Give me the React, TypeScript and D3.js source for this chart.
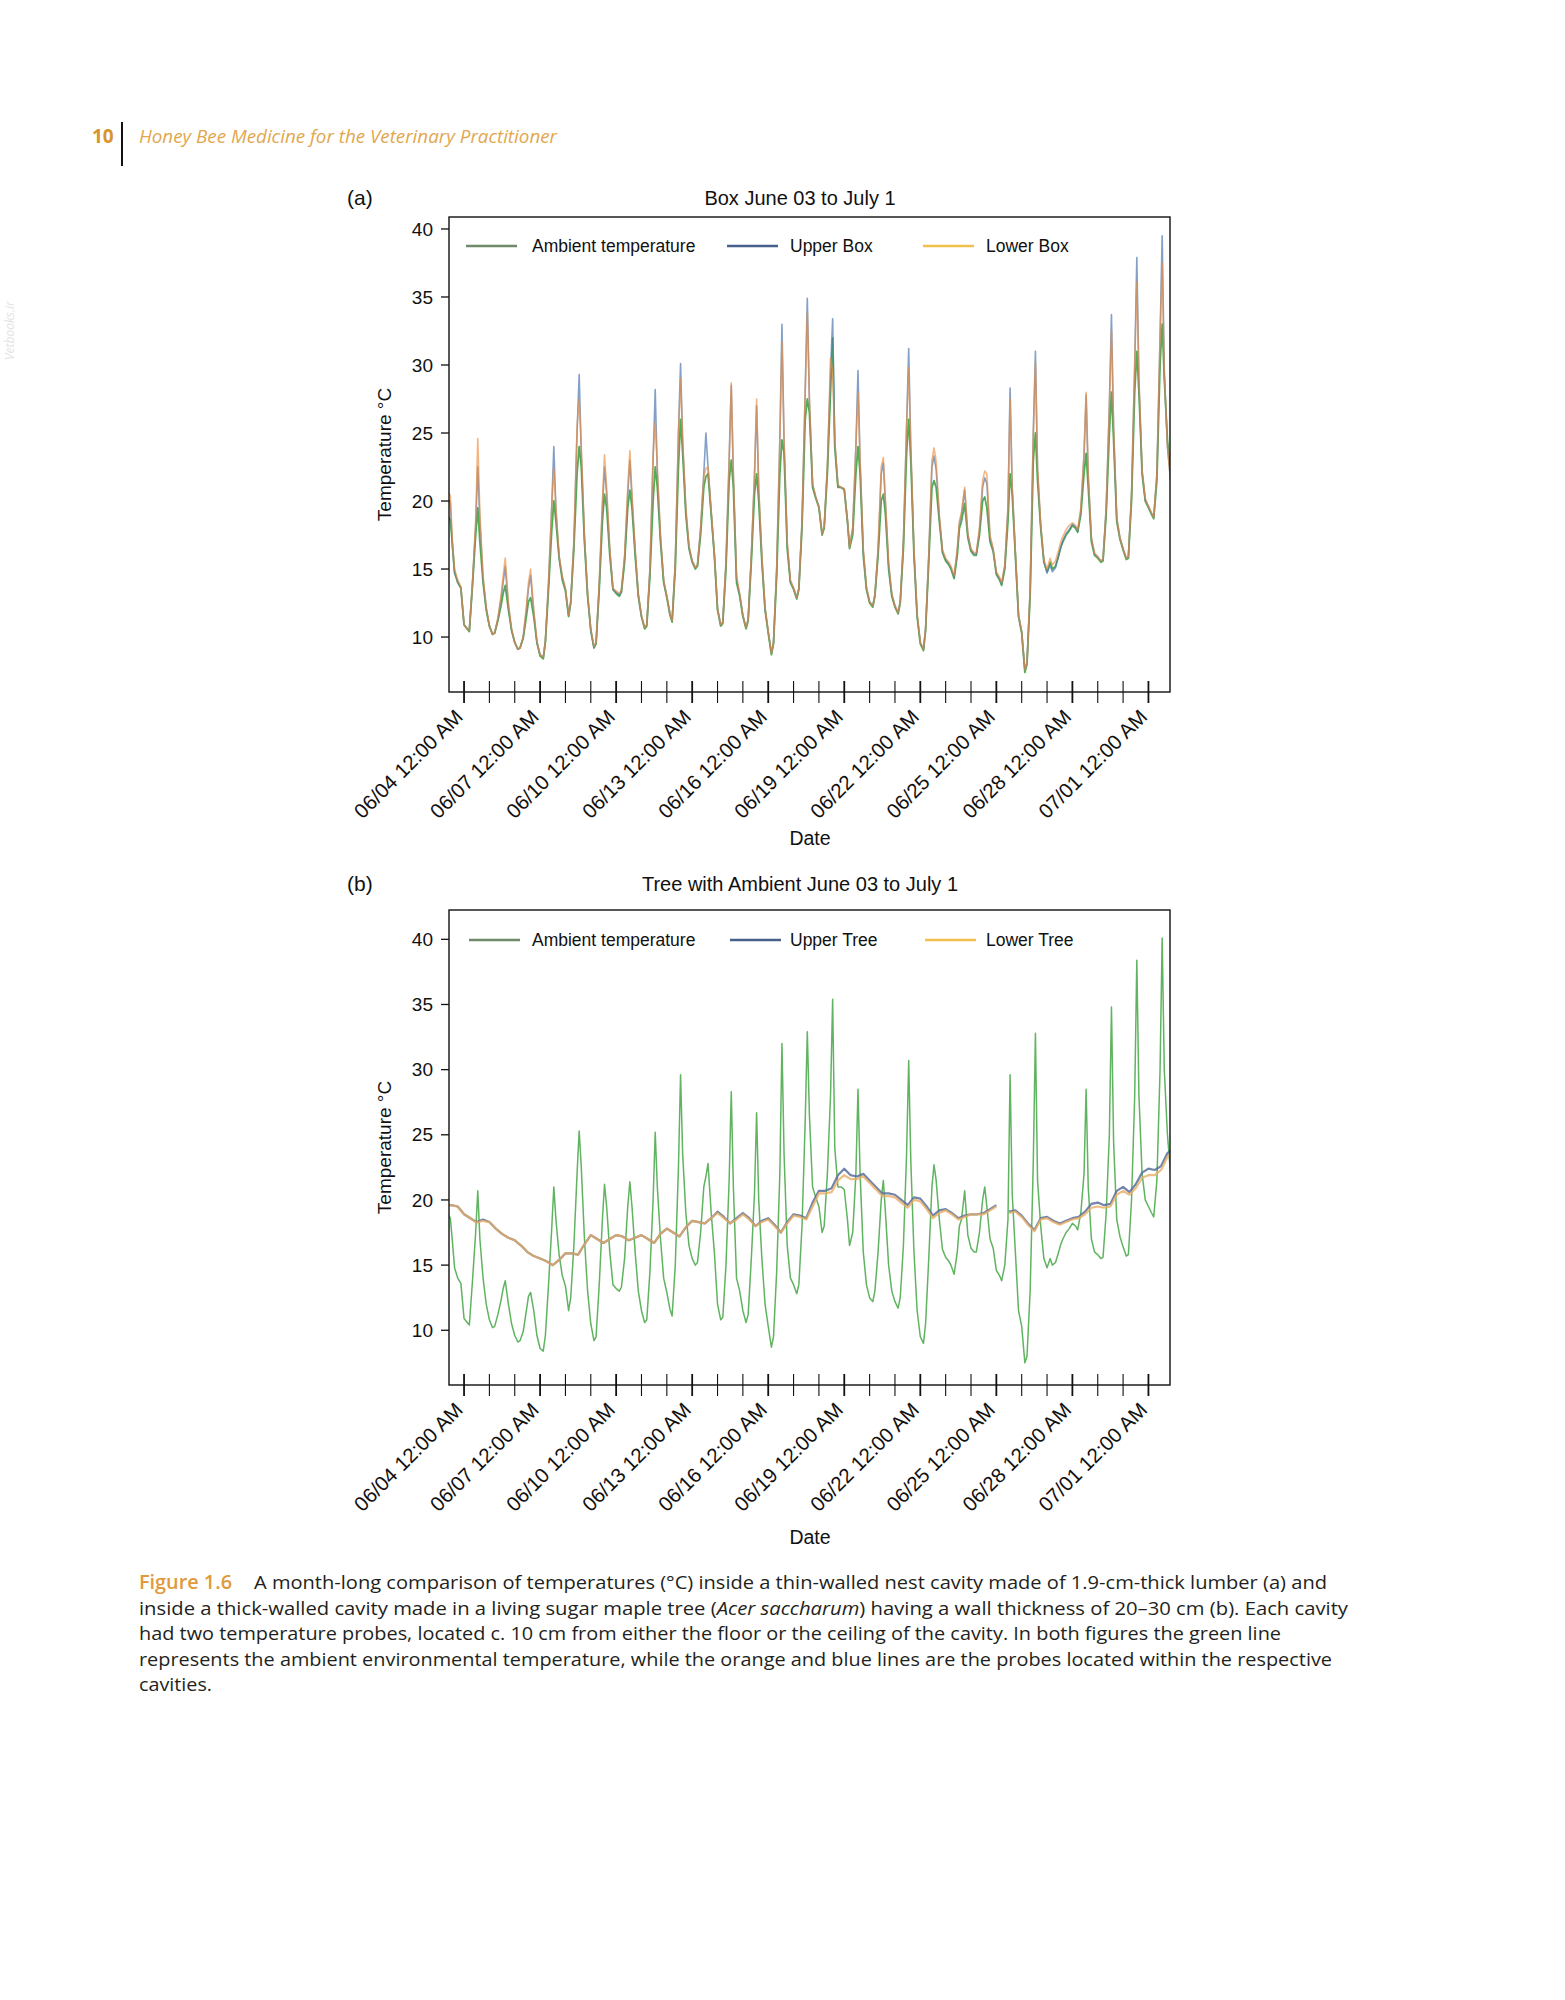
import React from 'react';
import * as d3 from 'd3';

// ---------- DATA ----------
// Box panel series: values at these hours of each day, day rows from 06/03 to 07/01
const BOX_HOURS = [0, 3, 5, 8, 11, 13, 15, 18, 21];
// Tree panel series: values at these hours of each day, rows from 06/03 to 07/02
const TREE_HOURS = [0, 6, 12, 18];

// Ambient temperature
const ambientTree: (number | null)[] = [
  null, null, null, 19.0, 18.6, 16.8, 14.8, 14.0, 13.6, // 06/03
  10.9, 10.6, 10.4, 13.8, 17.5, 20.7, 17.0, 14.0, 12.0, // 06/04
  10.8, 10.2, 10.3, 11.2, 12.3, 13.2, 13.8, 12.0, 10.5,
  9.6, 9.1, 9.2, 9.9, 11.5, 12.6, 12.9, 11.5, 9.6,
  8.6, 8.4, 9.6, 13.5, 17.8, 21.0, 18.5, 15.8, 14.2, // 06/07
  13.4, 11.5, 12.5, 16.5, 22.0, 25.3, 22.5, 17.0, 13.0,
  10.5, 9.2, 9.5, 13.5, 18.5, 21.2, 19.5, 16.0, 13.5,
  13.2, 13.0, 13.3, 15.5, 19.5, 21.4, 19.5, 16.0, 13.0, // 06/10
  11.5, 10.6, 10.8, 14.5, 20.0, 25.2, 21.0, 17.0, 14.0,
  12.9, 11.6, 11.1, 15.0, 22.5, 29.6, 23.5, 19.0, 16.5,
  15.5, 15.0, 15.2, 17.5, 21.0, 21.8, 22.8, 19.0, 16.0, // 06/13
  12.0, 10.8, 11.0, 15.0, 21.5, 28.3, 21.0, 14.0, 13.0,
  11.5, 10.6, 11.2, 15.5, 20.5, 26.7, 20.0, 15.5, 12.0,
  10.3, 8.7, 9.5, 14.5, 22.0, 32.0, 23.5, 16.5, 14.0, // 06/16
  13.5, 12.8, 13.5, 18.0, 26.0, 32.9, 26.5, 21.0, 20.2,
  19.5, 17.5, 18.0, 22.0, 28.0, 35.4, 24.0, 21.0, 21.0,
  20.8, 18.5, 16.5, 17.5, 22.0, 28.5, 22.0, 16.0, 13.5, // 06/19
  12.5, 12.2, 13.0, 16.0, 20.0, 21.5, 19.0, 15.0, 13.0,
  12.2, 11.7, 12.5, 16.5, 23.5, 30.7, 23.0, 16.0, 11.5,
  9.5, 9.0, 10.5, 15.5, 21.0, 22.7, 21.5, 18.5, 16.2, // 06/22
  15.6, 15.3, 15.0, 14.3, 16.0, 18.0, 18.5, 20.7, 17.3,
  16.3, 16.0, 16.0, 17.5, 20.0, 21.0, 19.5, 17.0, 16.3,
  14.6, 14.2, 13.8, 15.0, 18.5, 29.6, 20.5, 16.0, 11.5, // 06/25
  10.3, 7.5, 8.0, 13.0, 23.0, 32.8, 21.5, 18.0, 15.5,
  14.8, 15.5, 15.0, 15.2, 16.0, 16.6, 17.0, 17.5, 17.8,
  18.2, 18.0, 17.7, 19.0, 22.0, 28.5, 21.0, 17.0, 16.0, // 06/28
  15.8, 15.5, 15.6, 19.0, 25.0, 34.8, 24.5, 18.5, 17.2,
  16.4, 15.7, 15.8, 20.0, 28.0, 38.4, 28.0, 22.0, 20.0,
  19.5, 19.0, 18.7, 21.5, 30.0, 40.1, 30.0, 25.0, 22.0, // 07/01
];

// Ambient temperature
const ambientBox: (number | null)[] = [
  null, null, null, 19.0, 18.6, 16.8, 14.8, 14.0, 13.6, // 06/03
  10.9, 10.6, 10.4, 13.8, 17.5, 19.5, 17.0, 14.0, 12.0, // 06/04
  10.8, 10.2, 10.3, 11.2, 12.3, 13.2, 13.8, 12.0, 10.5,
  9.6, 9.1, 9.2, 9.9, 11.5, 12.6, 12.9, 11.5, 9.6,
  8.6, 8.4, 9.6, 13.5, 17.8, 20.0, 18.5, 15.8, 14.2, // 06/07
  13.4, 11.5, 12.5, 16.5, 22.0, 24.0, 22.5, 17.0, 13.0,
  10.5, 9.2, 9.5, 13.5, 18.5, 20.5, 19.5, 16.0, 13.5,
  13.2, 13.0, 13.3, 15.5, 19.5, 20.8, 19.5, 16.0, 13.0, // 06/10
  11.5, 10.6, 10.8, 14.5, 20.0, 22.5, 21.0, 17.0, 14.0,
  12.9, 11.6, 11.1, 15.0, 22.5, 26.0, 23.5, 19.0, 16.5,
  15.5, 15.0, 15.2, 17.5, 21.0, 21.8, 22.0, 19.0, 16.0, // 06/13
  12.0, 10.8, 11.0, 15.0, 21.5, 23.0, 21.0, 14.0, 13.0,
  11.5, 10.6, 11.2, 15.5, 20.5, 22.0, 20.0, 15.5, 12.0,
  10.3, 8.7, 9.5, 14.5, 22.0, 24.5, 23.5, 16.5, 14.0, // 06/16
  13.5, 12.8, 13.5, 18.0, 26.0, 27.5, 26.5, 21.0, 20.2,
  19.5, 17.5, 18.0, 22.0, 28.0, 32.0, 24.0, 21.0, 21.0,
  20.8, 18.5, 16.5, 17.5, 22.0, 24.0, 22.0, 16.0, 13.5, // 06/19
  12.5, 12.2, 13.0, 16.0, 20.0, 20.5, 19.0, 15.0, 13.0,
  12.2, 11.7, 12.5, 16.5, 23.5, 26.0, 23.0, 16.0, 11.5,
  9.5, 9.0, 10.5, 15.5, 21.0, 21.5, 21.0, 18.5, 16.2, // 06/22
  15.6, 15.3, 15.0, 14.3, 16.0, 18.0, 18.5, 19.8, 17.3,
  16.3, 16.0, 16.0, 17.5, 20.0, 20.3, 19.5, 17.0, 16.3,
  14.6, 14.2, 13.8, 15.0, 18.5, 22.0, 20.5, 16.0, 11.5, // 06/25
  10.3, 7.4, 8.0, 13.0, 23.0, 25.0, 21.5, 18.0, 15.5,
  14.8, 15.5, 15.0, 15.2, 16.0, 16.6, 17.0, 17.5, 17.8,
  18.2, 18.0, 17.7, 19.0, 22.0, 23.5, 21.0, 17.0, 16.0, // 06/28
  15.8, 15.5, 15.6, 19.0, 25.0, 28.0, 24.5, 18.5, 17.2,
  16.4, 15.7, 15.8, 20.0, 28.0, 31.0, 28.0, 22.0, 20.0,
  19.5, 19.0, 18.7, 21.5, 30.0, 33.0, 29.0, 24.5, 22.0, // 07/01
];

const upperBox: (number | null)[] = [
  null, null, null, 20.3, 19.9, 16.6, 14.7, 14.1, 13.6,
  10.9, 10.6, 10.5, 14.0, 18.2, 22.5, 18.5, 14.3, 12.1,
  10.8, 10.2, 10.3, 11.3, 12.8, 14.0, 15.2, 12.3, 10.5,
  9.6, 9.1, 9.2, 10.0, 12.0, 13.6, 14.5, 11.8, 9.6,
  8.7, 8.5, 9.7, 14.0, 19.5, 24.0, 19.3, 15.9, 14.4,
  13.5, 11.6, 12.6, 17.0, 25.0, 29.3, 23.5, 17.3, 13.1,
  10.5, 9.2, 9.6, 13.8, 19.5, 22.5, 20.5, 16.3, 13.5,
  13.3, 13.1, 13.4, 15.8, 20.5, 23.0, 20.2, 16.3, 13.1,
  11.5, 10.7, 10.9, 15.0, 23.0, 28.2, 22.0, 17.3, 14.1,
  13.0, 11.7, 11.2, 15.5, 25.0, 30.1, 24.3, 19.3, 16.6,
  15.6, 15.1, 15.3, 18.0, 22.0, 25.0, 22.5, 19.2, 16.1,
  12.1, 10.9, 11.1, 15.5, 23.0, 28.5, 21.8, 14.3, 13.1,
  11.6, 10.7, 11.3, 16.0, 21.8, 27.0, 20.8, 15.8, 12.1,
  10.4, 8.8, 9.6, 15.0, 24.5, 33.0, 24.3, 16.8, 14.1,
  13.6, 12.9, 13.6, 18.5, 28.0, 34.9, 27.3, 21.2, 20.3,
  19.6, 17.6, 18.1, 22.5, 29.5, 33.4, 24.3, 21.1, 21.0,
  20.9, 18.6, 16.6, 18.0, 24.0, 29.6, 22.8, 16.3, 13.6,
  12.6, 12.3, 13.1, 16.3, 22.0, 22.8, 19.8, 15.3, 13.1,
  12.3, 11.8, 12.6, 17.0, 25.5, 31.2, 23.8, 16.3, 11.6,
  9.6, 9.1, 10.6, 16.0, 22.5, 23.3, 22.3, 18.8, 16.3,
  15.7, 15.4, 15.1, 14.4, 16.3, 18.3, 19.0, 20.8, 17.5,
  16.4, 16.1, 16.1, 17.8, 21.0, 21.7, 21.3, 17.3, 16.4,
  14.7, 14.3, 13.9, 15.2, 19.5, 28.3, 21.0, 16.2, 11.6,
  10.4, 7.6, 8.1, 13.5, 25.0, 31.0, 22.3, 18.2, 15.6,
  14.7, 15.3, 14.8, 15.1, 16.0, 16.6, 17.1, 17.6, 17.9,
  18.3, 18.1, 17.8, 19.3, 23.3, 27.8, 21.8, 17.2, 16.1,
  15.9, 15.6, 15.7, 19.5, 27.0, 33.7, 25.3, 18.7, 17.3,
  16.5, 15.8, 15.9, 20.5, 30.0, 37.9, 28.8, 22.2, 20.1,
  19.6, 19.1, 18.8, 22.0, 32.0, 39.5, 29.5, 24.0, 21.5,
];

const lowerBox: (number | null)[] = [
  null, null, null, 20.8, 20.4, 17.0, 15.0, 14.2, 13.7,
  10.9, 10.6, 10.5, 14.0, 18.5, 24.6, 19.0, 14.5, 12.2,
  10.8, 10.2, 10.3, 11.4, 13.0, 14.5, 15.8, 12.5, 10.6,
  9.6, 9.1, 9.2, 10.0, 12.2, 14.0, 15.0, 12.0, 9.7,
  8.7, 8.5, 9.7, 14.0, 19.5, 22.4, 19.5, 16.0, 14.5,
  13.6, 11.6, 12.6, 17.0, 25.5, 27.5, 24.0, 17.5, 13.2,
  10.6, 9.3, 9.6, 14.0, 20.0, 23.4, 21.0, 16.5, 13.6,
  13.4, 13.2, 13.5, 16.0, 21.0, 23.7, 20.5, 16.5, 13.2,
  11.6, 10.7, 10.9, 15.0, 23.5, 25.8, 22.5, 17.5, 14.2,
  13.0, 11.7, 11.2, 15.5, 25.0, 29.0, 24.5, 19.5, 16.7,
  15.6, 15.1, 15.3, 18.0, 21.8, 22.4, 22.5, 19.3, 16.2,
  12.1, 10.9, 11.1, 15.5, 23.0, 28.7, 22.0, 14.5, 13.2,
  11.6, 10.7, 11.3, 16.0, 22.0, 27.5, 21.0, 16.0, 12.2,
  10.4, 8.8, 9.6, 15.0, 24.5, 31.7, 24.5, 17.0, 14.2,
  13.6, 12.9, 13.6, 18.5, 28.0, 33.9, 27.5, 21.3, 20.3,
  19.6, 17.6, 18.1, 22.5, 30.5, 29.5, 24.5, 21.2, 21.0,
  20.9, 18.6, 16.6, 18.0, 24.0, 28.0, 23.0, 16.5, 13.7,
  12.6, 12.3, 13.1, 16.5, 22.5, 23.2, 20.0, 15.5, 13.2,
  12.3, 11.8, 12.6, 17.0, 25.5, 29.8, 24.0, 16.5, 11.7,
  9.6, 9.1, 10.6, 16.0, 23.0, 23.9, 22.9, 19.0, 16.4,
  15.8, 15.5, 15.2, 14.5, 16.5, 18.5, 19.2, 21.0, 17.6,
  16.5, 16.2, 16.2, 18.0, 21.5, 22.2, 22.0, 17.5, 16.5,
  14.8, 14.4, 14.0, 15.3, 19.5, 27.5, 21.0, 16.3, 11.6,
  10.4, 7.6, 8.1, 13.5, 25.0, 30.2, 22.5, 18.3, 15.7,
  15.0, 15.8, 15.3, 15.6, 16.4, 17.0, 17.4, 17.9, 18.2,
  18.4, 18.2, 17.9, 19.5, 23.5, 28.0, 22.0, 17.3, 16.2,
  15.9, 15.6, 15.7, 19.5, 27.0, 32.5, 25.5, 18.8, 17.3,
  16.5, 15.8, 15.9, 20.5, 30.0, 36.1, 29.0, 22.3, 20.2,
  19.6, 19.1, 18.8, 22.0, 32.0, 37.5, 29.5, 24.0, 21.5,
];

const upperTree: (number | null)[] = [
  null, 19.6, 19.6, 19.5, // 06/03
  18.9, 18.6, 18.3, 18.5,
  18.3, 17.8, 17.4, 17.1,
  16.9, 16.5, 16.0, 15.7,
  15.5, 15.3, 15.0, 15.4, // 06/07
  15.9, 15.9, 15.8, 16.6,
  17.3, 17.0, 16.7, 17.0,
  17.3, 17.2, 16.9, 17.1, // 06/10
  17.3, 17.0, 16.7, 17.4,
  17.8, 17.5, 17.2, 17.9,
  18.4, 18.3, 18.2, 18.6, // 06/13
  19.1, 18.7, 18.2, 18.6,
  19.0, 18.6, 18.0, 18.4,
  18.6, 18.1, 17.5, 18.3, // 06/16
  18.9, 18.8, 18.6, 19.8,
  20.7, 20.7, 20.9, 21.9,
  22.4, 21.9, 21.8, 22.0, // 06/19
  21.5, 21.0, 20.5, 20.5,
  20.4, 20.0, 19.6, 20.2,
  20.1, 19.5, 18.8, 19.2, // 06/22
  19.3, 19.0, 18.6, 18.8,
  18.9, 18.9, 19.0, 19.3,
  19.6, null, 19.1, 19.2, // 06/25
  18.8, 18.2, 17.7, 18.6,
  18.7, 18.4, 18.2, 18.4,
  18.6, 18.7, 19.1, 19.7, // 06/28
  19.8, 19.6, 19.7, 20.7,
  21.0, 20.6, 21.2, 22.1,
  22.4, 22.3, 22.6, 23.6, // 07/01
  24.0, null, null, null,
];

const lowerTree: (number | null)[] = [
  null, 19.6, 19.6, 19.5,
  18.9, 18.6, 18.25, 18.4,
  18.3, 17.8, 17.4, 17.1,
  16.9, 16.5, 16.0, 15.7,
  15.5, 15.3, 15.0, 15.4,
  15.9, 15.9, 15.8, 16.6,
  17.3, 17.0, 16.7, 17.0,
  17.3, 17.2, 16.9, 17.1,
  17.3, 17.0, 16.7, 17.4,
  17.8, 17.5, 17.2, 17.9,
  18.4, 18.3, 18.2, 18.6,
  19.0, 18.6, 18.2, 18.5,
  18.9, 18.5, 18.0, 18.3,
  18.5, 18.0, 17.5, 18.2,
  18.8, 18.7, 18.5, 19.5,
  20.5, 20.5, 20.6, 21.5,
  21.9, 21.6, 21.6, 21.8,
  21.3, 20.8, 20.3, 20.3,
  20.2, 19.8, 19.4, 20.0,
  19.9, 19.3, 18.6, 19.0,
  19.2, 18.9, 18.5, 18.7,
  18.9, 18.9, 18.9, 19.2,
  19.5, null, 19.0, 19.1,
  18.7, 18.1, 17.6, 18.5,
  18.6, 18.3, 18.1, 18.3,
  18.5, 18.6, 18.9, 19.4,
  19.5, 19.4, 19.5, 20.4,
  20.7, 20.4, 20.9, 21.7,
  21.9, 21.9, 22.3, 23.3,
  23.8, null, null, null,
];

const Y_TICKS = [10, 15, 20, 25, 30, 35, 40];
const LABEL_EVERY = 3;

// ---------- LAYOUT ----------
const X0 = 449;
const X1 = 1170;
const X_DOMAIN: [Date, Date] = [new Date(2019, 5, 3, 9, 45), new Date(2019, 6, 1, 20, 25)];
const CHART_FONT = '"Liberation Sans", Arial, Helvetica, sans-serif';

type Pt = { t: Date; v: number | null };

function toSeries(values: (number | null)[], hours: number[]): Pt[] {
  return values.map((v, i) => {
    const day = Math.floor(i / hours.length);
    const h = hours[i % hours.length];
    return { t: new Date(2019, 5, 3 + day, h), v };
  });
}

type SeriesDef = { data: Pt[]; color: string; width: number; opacity: number };
type LegendDef = { label: string; color: string; lineX: number; textX: number };

function Panel(props: {
  id: string;
  y0: number;
  y1: number;
  yDomain: [number, number];
  label: string;
  title: string;
  headY: number;
  legendY: number;
  dateY: number;
  legend: LegendDef[];
  series: SeriesDef[];
}) {
  const { id, y0, y1, yDomain, label, title, headY, legendY, dateY, legend, series } = props;
  const x = d3.scaleTime().domain(X_DOMAIN).range([X0, X1]);
  const y = d3.scaleLinear().domain(yDomain).range([y1, y0]);
  const line = d3
    .line<Pt>()
    .defined((d) => d.v != null)
    .x((d) => x(d.t))
    .y((d) => y(d.v as number));
  const days = d3.timeDay.range(new Date(2019, 5, 4), new Date(2019, 6, 2));
  const fmt = d3.timeFormat('%m/%d %I:%M %p');
  const clipId = 'clip-' + id;

  return (
    <g fontFamily={CHART_FONT}>
      <defs>
        <clipPath id={clipId}>
          <rect x={X0} y={y0} width={X1 - X0} height={y1 - y0} />
        </clipPath>
      </defs>
      <text x={347} y={headY} fontSize={21} fill="#111">{label}</text>
      <text x={800} y={headY} fontSize={20} textAnchor="middle" fill="#111">{title}</text>

      <g clipPath={`url(#${clipId})`}>
        {series.map((s, i) => (
          <path
            key={i}
            d={line(s.data) || ''}
            fill="none"
            stroke={s.color}
            strokeWidth={s.width}
            strokeOpacity={s.opacity}
            strokeLinejoin="round"
          />
        ))}
      </g>

      <rect x={X0} y={y0} width={X1 - X0} height={y1 - y0} fill="none" stroke="#111" strokeWidth={1.4} />

      {/* legend */}
      {legend.map((l, i) => (
        <g key={i}>
          <line x1={l.lineX} x2={l.lineX + 51} y1={legendY} y2={legendY} stroke={l.color} strokeWidth={2.6} />
          <text x={l.textX} y={legendY} dy="0.35em" fontSize={17.5} fill="#111">{l.label}</text>
        </g>
      ))}

      {/* y axis */}
      {Y_TICKS.map((t) => (
        <g key={t}>
          <line x1={X0 - 8} x2={X0} y1={y(t)} y2={y(t)} stroke="#111" strokeWidth={1.3} />
          <text x={433} y={y(t)} dy="0.35em" textAnchor="end" fontSize={19} fill="#111">{t}</text>
        </g>
      ))}
      <text
        transform={`translate(391, ${(y0 + y1) / 2}) rotate(-90)`}
        textAnchor="middle"
        fontSize={19}
        fill="#111"
      >
        Temperature °C
      </text>

      {/* x axis */}
      {days.map((d, i) => (
        <line
          key={i}
          x1={x(d)}
          x2={x(d)}
          y1={y1 - 11}
          y2={y1 + 11}
          stroke="#111"
          strokeWidth={i % LABEL_EVERY === 0 ? 1.8 : 1.1}
        />
      ))}
      {days
        .filter((_, i) => i % LABEL_EVERY === 0)
        .map((d, i) => (
          <text
            key={i}
            transform={`translate(${x(d) - 5}, ${y1 + 21}) rotate(-45)`}
            textAnchor="end"
            dy="0.35em"
            fontSize={20.5}
            fill="#111"
          >
            {fmt(d)}
          </text>
        ))}
      <text x={810} y={dateY} textAnchor="middle" fontSize={19.5} fill="#111">Date</text>
    </g>
  );
}

export default function App() {
  const ambA = toSeries(ambientBox, BOX_HOURS);
  const ambB = toSeries(ambientTree, BOX_HOURS);
  const ub = toSeries(upperBox, BOX_HOURS);
  const lb = toSeries(lowerBox, BOX_HOURS);
  const ut = toSeries(upperTree, TREE_HOURS);
  const lt = toSeries(lowerTree, TREE_HOURS);

  const capFont = '"Open Sans", "Noto Sans", sans-serif';
  const capColor = '#231f20';
  const orange = '#e09a3c';

  return (
    <svg
      width={1565}
      height={2000}
      style={{ position: 'absolute', left: 0, top: 0, background: '#fff' }}
    >
      {/* running head */}
      <text x={92} y={143} fontFamily={capFont} fontWeight={700} fontSize={19} fill="#d8952e">10</text>
      <line x1={122} x2={122} y1={122} y2={166} stroke="#111" strokeWidth={2} />
      <text
        x={139}
        y={143}
        fontFamily={capFont}
        fontStyle="italic"
        fontSize={19}
        fill="#e2a74e"
        textLength={418}
        lengthAdjust="spacingAndGlyphs"
      >
        Honey Bee Medicine for the Veterinary Practitioner
      </text>
      <text
        transform="translate(14, 360) rotate(-90)"
        fontFamily={capFont}
        fontStyle="italic"
        fontSize={12}
        fill="#e4e4e4"
      >
        Vetbooks.ir
      </text>

      <Panel
        id="a"
        y0={217}
        y1={692}
        yDomain={[5.96, 40.88]}
        label="(a)"
        title="Box June 03 to July 1"
        headY={205}
        legendY={246}
        dateY={845}
        legend={[
          { label: 'Ambient temperature', color: '#6f8a69', lineX: 466, textX: 532 },
          { label: 'Upper Box', color: '#48608c', lineX: 727, textX: 790 },
          { label: 'Lower Box', color: '#f1c04c', lineX: 923, textX: 986 },
        ]}
        series={[
          { data: ambA, color: '#34a034', width: 1.8, opacity: 0.85 },
          { data: ub, color: '#4f78b0', width: 1.6, opacity: 0.7 },
          { data: lb, color: '#ec8e3e', width: 1.6, opacity: 0.65 },
        ]}
      />

      <Panel
        id="b"
        y0={910}
        y1={1385}
        yDomain={[5.8, 42.25]}
        label="(b)"
        title="Tree with Ambient June 03 to July 1"
        headY={891}
        legendY={940}
        dateY={1544}
        legend={[
          { label: 'Ambient temperature', color: '#6f8a69', lineX: 469, textX: 532 },
          { label: 'Upper Tree', color: '#48608c', lineX: 730, textX: 790 },
          { label: 'Lower Tree', color: '#f1c04c', lineX: 925, textX: 986 },
        ]}
        series={[
          { data: ambB, color: '#38a038', width: 1.5, opacity: 0.8 },
          { data: ut, color: '#5a6e9c', width: 2.2, opacity: 0.85 },
          { data: lt, color: '#e8ae64', width: 2.2, opacity: 0.8 },
        ]}
      />

      {/* caption */}
      <g fontFamily={capFont} fontSize={19} fill={capColor}>
        <text x={139} y={1589} fill={orange} fontWeight={600} textLength={93} lengthAdjust="spacingAndGlyphs">
          Figure 1.6
        </text>
        <text x={254} y={1589} textLength={1073} lengthAdjust="spacingAndGlyphs">
          A month-long comparison of temperatures (°C) inside a thin-walled nest cavity made of 1.9-cm-thick lumber (a) and
        </text>
        <text x={139} y={1615} textLength={1209} lengthAdjust="spacingAndGlyphs">
          inside a thick-walled cavity made in a living sugar maple tree (<tspan fontStyle="italic">Acer saccharum</tspan>) having a wall thickness of 20–30 cm (b). Each cavity
        </text>
        <text x={139} y={1640} textLength={1142} lengthAdjust="spacingAndGlyphs">
          had two temperature probes, located c. 10 cm from either the floor or the ceiling of the cavity. In both figures the green line
        </text>
        <text x={139} y={1666} textLength={1193} lengthAdjust="spacingAndGlyphs">
          represents the ambient environmental temperature, while the orange and blue lines are the probes located within the respective
        </text>
        <text x={139} y={1691} textLength={73} lengthAdjust="spacingAndGlyphs">
          cavities.
        </text>
      </g>
    </svg>
  );
}
